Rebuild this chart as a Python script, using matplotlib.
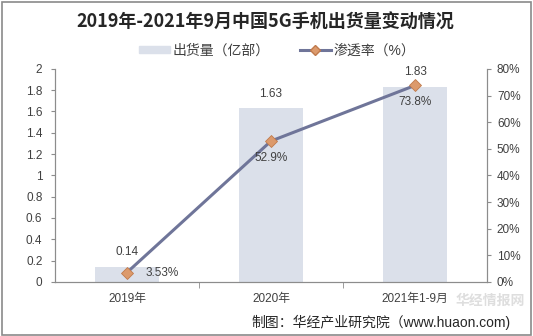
import matplotlib
matplotlib.use('Agg')
import matplotlib.pyplot as plt
from matplotlib.patches import Rectangle
from matplotlib.lines import Line2D
from matplotlib.ticker import FuncFormatter, MultipleLocator

plt.rcParams['font.family'] = ['Liberation Sans', 'Noto Sans CJK SC']

# data
categories = ['2019年', '2020年', '2021年1-9月']
shipments = [0.14, 1.63, 1.83]          # 亿部
penetration = [3.53, 52.9, 73.8]        # %
ship_labels = ['0.14', '1.63', '1.83']
pen_labels = ['3.53%', '52.9%', '73.8%']

BAR_COLOR = '#dbe0ea'
LINE_COLOR = '#6f7599'
MARK_COLOR = '#dc9a6c'
AXIS_COLOR = '#8c8c8c'
TEXT_COLOR = '#404040'

fig = plt.figure(figsize=(5.33, 3.36), dpi=100)
fig.patch.set_facecolor('white')
fig.patches.append(Rectangle((0.004, 0.004), 0.992, 0.99, transform=fig.transFigure,
                             fill=False, edgecolor='#8a8a8a', linewidth=1.2))

ax = fig.add_axes([0.103, 0.161, 0.811, 0.634])
x = list(range(len(categories)))
ax.bar(x, shipments, width=0.44, color=BAR_COLOR, zorder=1)
ax.set_xlim(-0.5, 2.5)
ax.set_ylim(0, 2)
ax.yaxis.set_major_locator(MultipleLocator(0.2))
ax.yaxis.set_major_formatter(FuncFormatter(lambda v, p: f'{v:g}'))
ax.set_xticks(x)
ax.set_xticklabels(categories)
ax.set_xticks([0.5, 1.5], minor=True)
ax.tick_params(axis='x', which='major', length=0, pad=8, labelsize=8.5, colors=TEXT_COLOR)
ax.tick_params(axis='x', which='minor', length=4, color=AXIS_COLOR, direction='out')
ax.tick_params(axis='y', length=3, color=AXIS_COLOR, labelsize=8.5, labelcolor=TEXT_COLOR, pad=6)
ax.spines['top'].set_visible(False)
for s in ['left', 'bottom', 'right']:
    ax.spines[s].set_color(AXIS_COLOR)
    ax.spines[s].set_linewidth(0.8)

for xi, v, lab in zip(x, shipments, ship_labels):
    ax.text(xi, v + 0.08, lab, ha='center', va='bottom', fontsize=8.5, color=TEXT_COLOR)

ax2 = ax.twinx()
ax2.plot(x, penetration, color=LINE_COLOR, linewidth=2.2, marker='D', markersize=6,
         markerfacecolor=MARK_COLOR, markeredgecolor='#c07a4c', markeredgewidth=0.6, zorder=3)
ax2.set_ylim(0, 80)
ax2.yaxis.set_major_locator(MultipleLocator(10))
ax2.yaxis.set_major_formatter(FuncFormatter(lambda v, p: f'{v:.0f}%'))
ax2.tick_params(axis='y', length=3, color=AXIS_COLOR, labelsize=8.5, labelcolor=TEXT_COLOR, pad=4)
ax2.spines['top'].set_visible(False)
for s in ['left', 'bottom', 'right']:
    ax2.spines[s].set_color(AXIS_COLOR)
    ax2.spines[s].set_linewidth(0.8)

ax2.text(x[0] + 0.13, penetration[0], pen_labels[0], ha='left', va='center', fontsize=8.5, color=TEXT_COLOR)
ax2.text(x[1], penetration[1] - 4, pen_labels[1], ha='center', va='top', fontsize=8.5, color=TEXT_COLOR)
ax2.text(x[2], penetration[2] - 4, pen_labels[2], ha='center', va='top', fontsize=8.5, color=TEXT_COLOR)

fig.text(0.497, 0.935, '2019年-2021年9月中国5G手机出货量变动情况', ha='center', va='center',
         fontsize=13, weight='bold', color='#262626', family=['Noto Sans CJK SC'])

handles = [Rectangle((0, 0), 1, 1, color=BAR_COLOR),
           Line2D([], [], color=LINE_COLOR, linewidth=2.2, marker='D', markersize=5,
                  markerfacecolor=MARK_COLOR, markeredgecolor='#c07a4c')]
fig.legend(handles, ['出货量（亿部）', '渗透率（%）'], loc='center', bbox_to_anchor=(0.52, 0.85),
           ncol=2, frameon=False, fontsize=10, handlelength=2.2, handleheight=0.4,
           columnspacing=2.2, handletextpad=0.2, labelcolor=TEXT_COLOR)

# watermark (kept small so it stays clear of the tick labels)
fig.text(0.985, 0.105, '华经情报网', ha='right', va='center', fontsize=10, weight='bold',
         color='#c8c8c8', alpha=0.6, family=['Noto Sans CJK SC'], zorder=0)
fig.text(0.957, 0.04, '制图：华经产业研究院（www.huaon.com)', ha='right', va='center',
         fontsize=10, color='#262626')

fig.savefig('out.png', dpi=100)
